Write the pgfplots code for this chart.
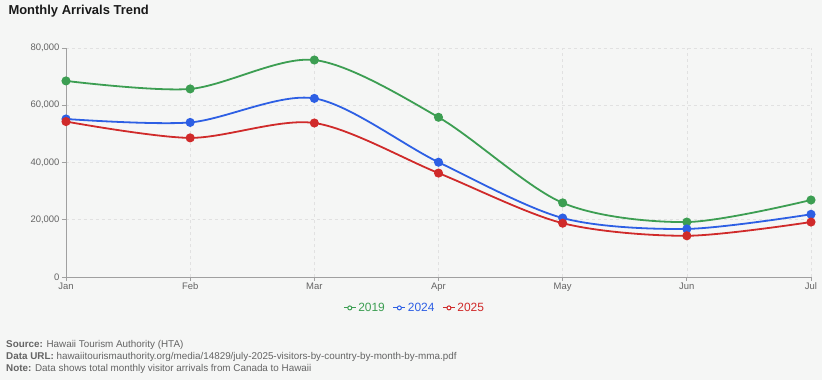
\documentclass[border=0pt]{standalone}
\usepackage{pgfplots}
\pgfplotsset{compat=1.18}
\usepackage{fontspec}
\setmainfont{Liberation Sans}
\definecolor{bg}{RGB}{245,246,245}
\definecolor{cg}{RGB}{60,158,82}
\definecolor{cb}{RGB}{45,95,228}
\definecolor{cr}{RGB}{208,42,42}
\definecolor{axgray}{RGB}{160,160,160}
\definecolor{txtgray}{RGB}{100,100,100}
\definecolor{gridgray}{RGB}{225,225,225}
\begin{document}
\begin{tikzpicture}
\fill[bg] (0bp,0bp) rectangle (822bp,380bp);
\node[anchor=west,font=\fontsize{13}{15}\selectfont\bfseries,text=black!90] at (5bp,369bp) {Monthly Arrivals Trend};
\begin{axis}[
  at={(66bp,103bp)}, anchor=south west,
  scale only axis, width=745bp, height=229bp,
  xmin=0, xmax=6, ymin=0, ymax=80000,
  xtick={0,...,6}, xticklabels={Jan,Feb,Mar,Apr,May,Jun,Jul},
  ytick={0,20000,40000,60000,80000},
  scaled y ticks=false,
  /pgf/number format/.cd, 1000 sep={,}, assume math mode=true, /pgfplots/.cd,
  axis x line*=bottom, axis y line*=left,
  axis line style={axgray, line width=0.9bp, -},
  tick align=outside, major tick length=4bp,
  tick style={axgray, line width=0.8bp},
  ticklabel style={font=\fontsize{9.5}{11}\selectfont, text=txtgray},
  xticklabel style={yshift=2bp},
  yticklabel style={xshift=1bp},
  grid=major,
  major grid style={gridgray, dashed, line width=0.6bp},
  every axis plot/.append style={line width=1.8bp, smooth, tension=0.5, mark=*, mark size=3.6bp},
  legend columns=3,
  legend style={at={(rel axis cs:0.468,-0.135)}, anchor=center, draw=none, fill=none,
    font=\fontsize{12}{14}\selectfont, /tikz/every even column/.append style={column sep=6bp}},
  legend cell align=left,
  legend image code/.code={
    \draw[line width=1bp] (0bp,0bp) -- (12bp,0bp);
    \draw[line width=1bp, fill=white] (6bp,0bp) circle (2bp);
  },
]
\addplot[cg, mark options={fill=cg, draw=cg}] coordinates {(0,68500) (1,65700) (2,75800) (3,55800) (4,25900) (5,19200) (6,26900)};
\addlegendentry{\textcolor{cg}{2019}}
\addplot[cb, mark options={fill=cb, draw=cb}] coordinates {(0,55200) (1,54000) (2,62400) (3,40100) (4,20600) (5,16800) (6,21900)};
\addlegendentry{\textcolor{cb}{2024}}
\addplot[cr, mark options={fill=cr, draw=cr}] coordinates {(0,54300) (1,48600) (2,53800) (3,36300) (4,18800) (5,14400) (6,19200)};
\addlegendentry{\textcolor{cr}{2025}}
\end{axis}
\begin{scope}[every node/.style={anchor=west, font=\fontsize{9.9}{11}\selectfont, text=txtgray, inner sep=0pt}]
\node at (6bp,35bp) {\textbf{Source:} Hawaii Tourism Authority (HTA)};
\node at (6bp,23bp) {\textbf{Data URL:} hawaiitourismauthority.org/media/14829/july-2025-visitors-by-country-by-month-by-mma.pdf};
\node at (6bp,11bp) {\textbf{Note:} Data shows total monthly visitor arrivals from Canada to Hawaii};
\end{scope}
\end{tikzpicture}
\end{document}
